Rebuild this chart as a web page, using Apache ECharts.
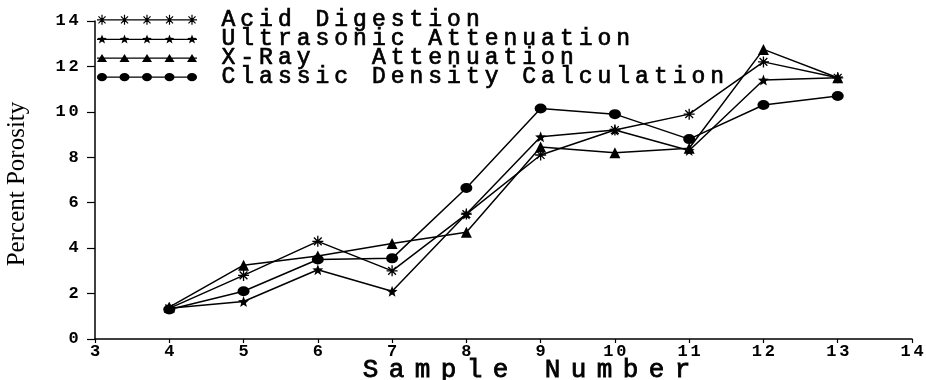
<!DOCTYPE html>
<html>
<head>
<meta charset="utf-8">
<script src="https://cdn.jsdelivr.net/npm/echarts@6/dist/echarts.min.js"></script>
<style>
  html, body { margin: 0; padding: 0; background: #fff; }
  #main { width: 926px; height: 380px; }
</style>
</head>
<body>
<div id="main"></div>
<script>
const chartDom = document.getElementById('main');
const myChart = echarts.init(chartDom);

// sample numbers and porosity values
const samples = [4, 5, 6, 7, 8, 9, 10, 11, 12, 13];
const acidDigestion = [1.35, 2.8, 4.3, 3.0, 5.5, 8.1, 9.2, 9.9, 12.2, 11.5];
const ultrasonic = [1.35, 1.65, 3.05, 2.1, 5.5, 8.9, 9.2, 8.3, 11.4, 11.5];
const xRay = [1.4, 3.25, 3.65, 4.2, 4.7, 8.45, 8.2, 8.4, 12.75, 11.5];
const classic = [1.3, 2.1, 3.5, 3.55, 6.65, 10.15, 9.9, 8.8, 10.3, 10.7];
const seriesNames = ['Acid Digestion', 'Ultrasonic Attenuation', 'X-Ray   Attenuation', 'Classic Density Calculation'];

const MONO = 'Liberation Mono';

// wrap every char in a fixed-width rich box (poor man's letter spacing)
function spaced(str, key) {
	return str.split('').map((c) => '{' + key + '|' + c + '}').join('');
}

// ---- marker shapes as svg path strings (all clockwise so overlaps fill) ----
function bar(cx, cy, len, w, deg) {
	const a = deg * Math.PI / 180;
	const pts = [[-len, -w], [len, -w], [len, w], [-len, w]].map((p) => [
		cx + p[0] * Math.cos(a) - p[1] * Math.sin(a),
		cy + p[0] * Math.sin(a) + p[1] * Math.cos(a)
	]);
	return 'M' + pts.map((p) => p[0].toFixed(2) + ' ' + p[1].toFixed(2)).join(' L') + ' Z ';
}
function asterisk(cx, cy, r) {
	return bar(cx, cy, r, 0.6, 0) + bar(cx, cy, r, 0.6, 90) + bar(cx, cy, r, 0.6, 45) + bar(cx, cy, r, 0.6, 135);
}
function star(cx, cy, r) {
	let d = '';
	for (let i = 0; i < 10; i++) {
		const a = (-90 + i * 36) * Math.PI / 180;
		const rr = i % 2 === 0 ? r : r * 0.42;
		d += (i === 0 ? 'M' : ' L') + (cx + rr * Math.cos(a)).toFixed(2) + ' ' + (cy + rr * Math.sin(a)).toFixed(2);
	}
	return d + ' Z ';
}
function triangle(cx, cy, r) {
	return 'M' + cx + ' ' + (cy - r * 0.8) + ' L' + (cx + r) + ' ' + (cy + r * 0.8) + ' L' + (cx - r) + ' ' + (cy + r * 0.8) + ' Z ';
}
function dot(cx, cy, r) {
	const ry = r * 0.82;
	return 'M' + (cx - r) + ' ' + cy + ' A' + r + ' ' + ry + ' 0 1 1 ' + (cx + r) + ' ' + cy +
		' A' + r + ' ' + ry + ' 0 1 1 ' + (cx - r) + ' ' + cy + ' Z ';
}
const shapes = [asterisk, star, triangle, dot];

function legendIcon(shape) {
	let d = 'M0 5.4 H100 V6.6 H0 Z ';
	for (let i = 0; i < 5; i++) {
		d += shape(5 + i * 22.5, 6, 5);
	}
	return 'path://' + d;
}

const allValues = [acidDigestion, ultrasonic, xRay, classic];

const seriesList = seriesNames.map((name, k) => ({
	type: 'line',
	name: name,
	data: samples.map((s, i) => [s, allValues[k][i]]),
	symbol: 'path://' + shapes[k](5, 5, 5),
	symbolSize: k === 3 ? [12, 10] : 11,
	showAllSymbol: true,
	lineStyle: { color: '#000', width: 1.5 },
	itemStyle: { color: '#000', borderWidth: 0 },
	emphasis: { disabled: true },
	z: 2 + k
}));

const tickRich = {
	t: { width: 13, fontSize: 17, fontWeight: 'bold', fontFamily: MONO, color: '#000', align: 'center' }
};

const option = {
	animation: false,
	backgroundColor: '#fff',
	grid: {
		left: 95,
		right: 14,
		top: 21,
		bottom: 41,
		outerBoundsMode: 'none'
	},
	legend: {
		orient: 'vertical',
		left: 97,
		top: 8,
		itemWidth: 100,
		itemHeight: 12,
		itemGap: -4.6,
		padding: 0,
		selectedMode: false,
		data: seriesNames.map((n, k) => ({ name: n, icon: legendIcon(shapes[k]) })),
		formatter: (n) => '{g|}' + spaced(n, 'l'),
		textStyle: {
			color: '#000',
			lineHeight: 18,
			rich: {
				g: { width: 17, height: 18 },
				l: {
					width: 18.8, fontSize: 23, fontFamily: MONO, color: '#000', align: 'center', lineHeight: 18,
					textBorderColor: '#000', textBorderWidth: 0.7
				}
			}
		}
	},
	xAxis: {
		type: 'value',
		min: 3,
		max: 14,
		interval: 1,
		name: spaced('Sample Number', 'n'),
		nameLocation: 'middle',
		nameGap: 20,
		nameMoveOverlap: false,
		nameTextStyle: {
			padding: [0, 0, 0, 46],
			rich: {
				n: {
					width: 26, fontSize: 26, fontFamily: MONO, color: '#000', align: 'center', lineHeight: 22,
					textBorderColor: '#000', textBorderWidth: 0.8
				}
			}
		},
		axisLine: { onZero: false, lineStyle: { color: '#000', width: 1.5 } },
		axisTick: { inside: false, length: 4, lineStyle: { color: '#000', width: 1.2 } },
		axisLabel: {
			margin: 4,
			formatter: (v) => spaced(String(v), 't'),
			rich: tickRich
		},
		splitLine: { show: false }
	},
	yAxis: {
		type: 'value',
		min: 0,
		max: 14,
		interval: 2,
		name: 'Percent Porosity',
		nameLocation: 'middle',
		nameGap: 65,
		nameMoveOverlap: false,
		nameTextStyle: { fontFamily: 'Liberation Serif', fontSize: 25, color: '#000', padding: [0, 8, 0, 0] },
		axisLine: { show: true, lineStyle: { color: '#000', width: 1.5 } },
		axisTick: { show: true, inside: false, length: 8, lineStyle: { color: '#000', width: 1.2 } },
		axisLabel: {
			margin: 15,
			formatter: (v) => spaced(String(v), 't'),
			rich: tickRich
		},
		splitLine: { show: false }
	},
	series: seriesList
};

myChart.setOption(option);
</script>
</body>
</html>
